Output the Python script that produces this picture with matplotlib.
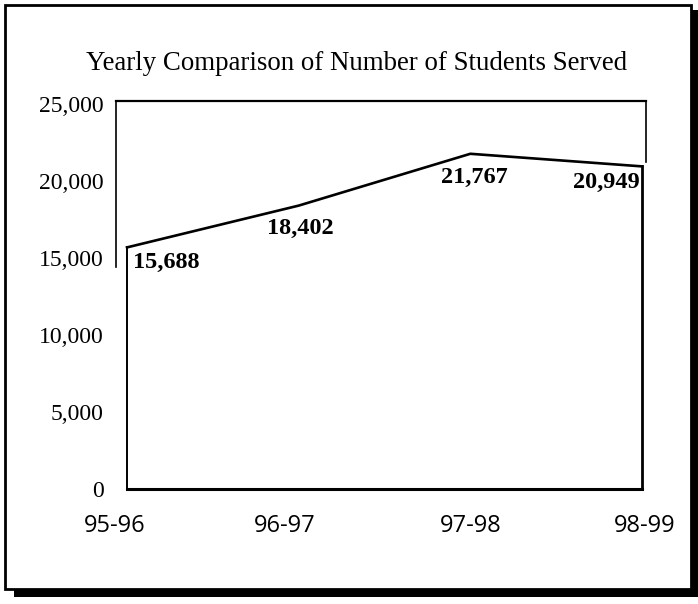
import matplotlib
matplotlib.use("Agg")
import matplotlib.pyplot as plt
from matplotlib.patches import Rectangle
from matplotlib.lines import Line2D
from matplotlib.ticker import FuncFormatter
from matplotlib.transforms import ScaledTranslation

years = ["95-96", "96-97", "97-98", "98-99"]
students = [15688, 18402, 21767, 20949]
label_texts = ["15,688", "18,402", "21,767", "20,949"]
y_ticks = [0, 5000, 10000, 15000, 20000, 25000]

W, H = 698, 604
fig = plt.figure(figsize=(W / 100, H / 100), dpi=100)
fig.patch.set_facecolor("white")

def fx(px):
    return px / W

def fy(py):
    return 1 - py / H

# axes covering front plane
ax = fig.add_axes([fx(127), fy(489), fx(642) - fx(127), fy(104) - fy(489)])
ax.set_xlim(0, len(years) - 1)
ax.set_ylim(0, 25000)
ax.set_facecolor("none")
for s in ax.spines.values():
    s.set_visible(False)

xs = list(range(len(years)))

# back wall (3D effect)
bx0, bx1, btop = -0.064, 3.023, 25195
ax.add_line(Line2D([bx0, bx0], [14415, btop], color="black", lw=1.2, clip_on=False))
ax.add_line(Line2D([bx0, bx1], [btop, btop], color="black", lw=1.6, clip_on=False))
ax.add_line(Line2D([bx1, bx1], [btop, 21234], color="black", lw=1.2, clip_on=False))

# area outline
ax.fill_between(xs, 0, students, facecolor="white", edgecolor="none", zorder=2)
ax.plot(xs, students, color="black", lw=1.9, solid_joinstyle="miter", zorder=3, clip_on=False)
ax.plot([0, 0], [0, students[0]], color="black", lw=1.4, zorder=3, clip_on=False)
ax.plot([xs[-1], xs[-1]], [0, students[-1]], color="black", lw=2.0, zorder=3, clip_on=False)
ax.plot([0, xs[-1]], [0, 0], color="black", lw=2.2, zorder=3, clip_on=False)

# data labels
offsets = [(39, -15), (2, -23), (4, -24), (-36, -16)]
for x, v, t, off in zip(xs, students, label_texts, offsets):
    ax.annotate(t, (x, v), xytext=off, textcoords="offset pixels",
                ha="center", va="center", fontsize=17.5, fontweight="bold",
                family="Liberation Serif", zorder=4)

ax.set_yticks(y_ticks)
ax.yaxis.set_major_formatter(FuncFormatter(lambda v, p: f"{int(v):,}"))
ax.set_xticks(xs)
ax.set_xticklabels(years)
ax.tick_params(axis="y", length=0, pad=17, labelsize=17)
ax.tick_params(axis="x", length=0, pad=18, labelsize=17)
for lab in ax.get_yticklabels():
    lab.set_family("Liberation Serif")
label_shift = [-12, -14, 0, 3]
for lab, dx in zip(ax.get_xticklabels(), label_shift):
    lab.set_family("Open Sans")
    lab.set_transform(lab.get_transform() + ScaledTranslation(dx / 100, 0, fig.dpi_scale_trans))

# title
fig.text(fx(357), fy(64), "Yearly Comparison of Number of Students Served",
         ha="center", va="center", fontsize=19.4, family="Liberation Serif")

# outer border with shadow
fig.patches.append(Rectangle((fx(691), fy(597)), fx(7), fy(10) - fy(597),
                             transform=fig.transFigure, facecolor="black", edgecolor="none"))
fig.patches.append(Rectangle((fx(14), fy(597)), fx(684), fy(589) - fy(597),
                             transform=fig.transFigure, facecolor="black", edgecolor="none"))
fig.patches.append(Rectangle((fx(5), fy(589)), fx(686), fy(5) - fy(589),
                             transform=fig.transFigure, facecolor="none", edgecolor="black", lw=2.0))

fig.savefig("out.png", dpi=100, facecolor="white")
